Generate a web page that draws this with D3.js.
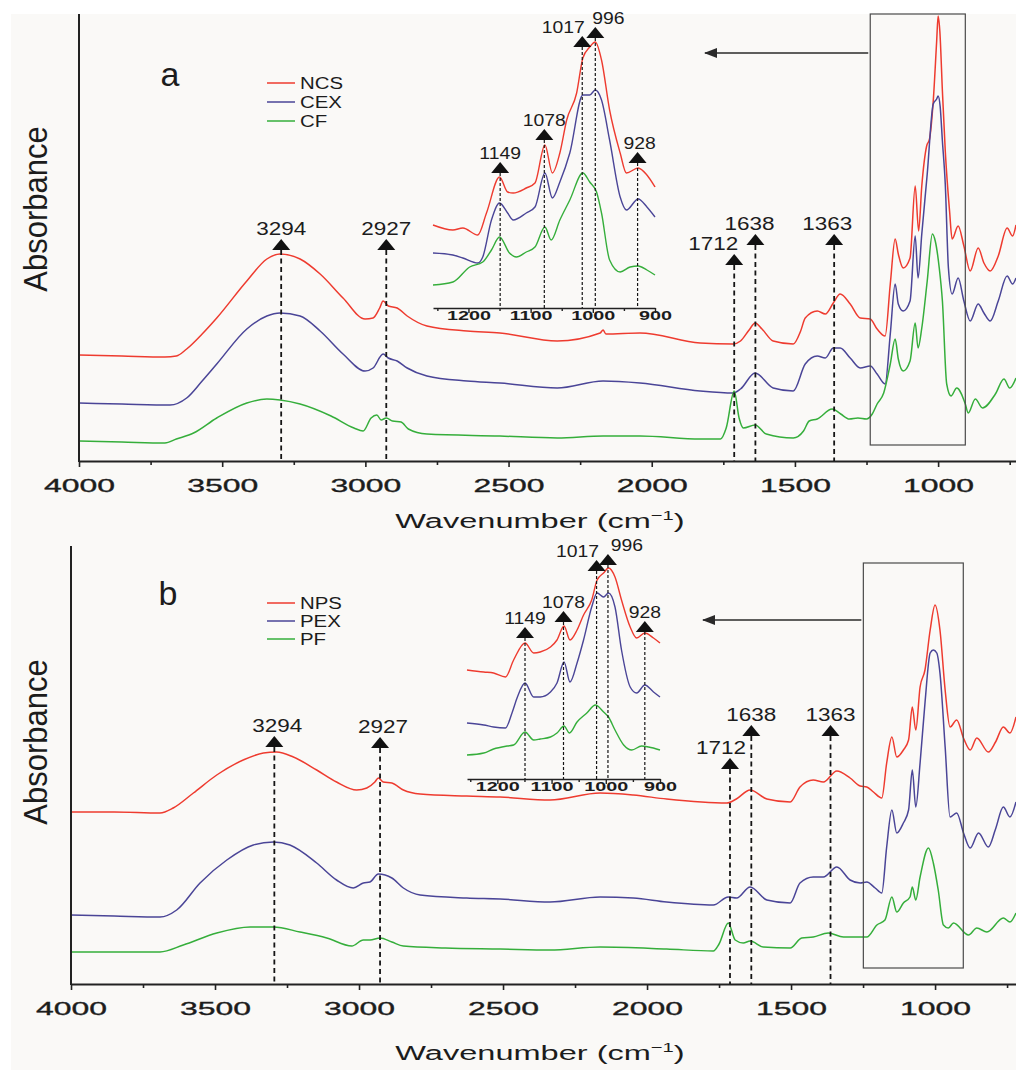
<!DOCTYPE html>
<html>
<head>
<meta charset="utf-8">
<script src="https://cdn.jsdelivr.net/npm/d3@7"></script>
<style>
  body { margin: 0; background: #ffffff; }
  svg { display: block; }
  text { font-family: "Liberation Sans", Arial, Helvetica, sans-serif; fill: #1c1c1c; }
</style>
</head>
<body>
<svg id="fig" width="1016" height="1070"></svg>
<script>
// ---------------- FTIR spectra: [wavenumber (cm-1), absorbance (a.u., offset)] ----------------
// Panel a
const NCS = [[4000,1.06],[3850,1.05],[3700,1.04],[3660,1.05],[3624,1.12],[3570,1.27],[3519,1.43],[3414,1.80],[3344,2.02],[3298,2.07],[3228,2.02],[3158,1.87],[3078,1.63],[3001,1.42],[2973,1.43],[2950,1.53],[2938,1.60],[2920,1.55],[2889,1.53],[2854,1.45],[2785,1.35],[2645,1.30],[2530,1.28],[2330,1.20],[2180,1.28],[2170,1.31],[2160,1.27],[2041,1.28],[1831,1.18],[1716,1.17],[1690,1.20],[1660,1.31],[1639,1.38],[1615,1.32],[1576,1.20],[1506,1.17],[1480,1.30],[1464,1.43],[1422,1.50],[1394,1.47],[1366,1.58],[1342,1.67],[1307,1.57],[1272,1.43],[1237,1.42],[1213,1.32],[1185,1.25],[1167,1.77],[1150,2.22],[1139,2.07],[1122,1.93],[1098,2.03],[1080,2.75],[1068,2.30],[1057,2.75],[1040,3.15],[1030,3.22],[1017,3.60],[1005,4.20],[1000,4.45],[994,4.30],[985,3.70],[975,3.10],[960,2.50],[951,2.22],[930,2.35],[910,2.15],[888,1.90],[860,2.13],[840,1.98],[818,1.90],[790,2.05],[759,2.33],[740,2.25],[728,2.36]];
const CEX = [[4000,0.58],[3850,0.57],[3682,0.56],[3624,0.63],[3570,0.80],[3519,0.97],[3414,1.32],[3344,1.45],[3298,1.48],[3228,1.45],[3158,1.30],[3078,1.07],[3001,0.90],[2973,0.93],[2938,1.07],[2920,1.03],[2889,1.00],[2854,0.93],[2785,0.85],[2645,0.80],[2530,0.78],[2330,0.73],[2170,0.80],[2041,0.78],[1831,0.70],[1716,0.68],[1690,0.72],[1639,0.88],[1576,0.73],[1506,0.70],[1464,0.97],[1422,1.05],[1394,1.03],[1366,1.13],[1342,1.13],[1307,1.03],[1272,0.93],[1237,0.95],[1213,0.87],[1185,0.77],[1167,1.27],[1150,1.77],[1139,1.57],[1122,1.50],[1098,1.60],[1080,2.25],[1070,1.83],[1057,2.27],[1038,2.87],[1017,3.57],[1005,3.62],[1000,3.65],[993,3.55],[985,3.20],[975,2.77],[964,1.93],[951,1.67],[930,1.83],[910,1.60],[888,1.40],[860,1.57],[840,1.48],[818,1.40],[790,1.60],[759,1.85],[740,1.77],[728,1.83]];
const CF = [[4000,0.20],[3850,0.19],[3700,0.18],[3660,0.22],[3600,0.28],[3519,0.43],[3414,0.58],[3344,0.62],[3298,0.61],[3228,0.57],[3120,0.45],[3040,0.33],[3008,0.30],[2980,0.43],[2960,0.46],[2945,0.41],[2927,0.43],[2905,0.40],[2875,0.39],[2850,0.32],[2785,0.27],[2530,0.25],[2330,0.23],[2170,0.25],[2041,0.25],[1831,0.22],[1760,0.22],[1740,0.33],[1712,0.70],[1695,0.43],[1680,0.33],[1639,0.36],[1600,0.27],[1506,0.23],[1470,0.30],[1450,0.40],[1422,0.42],[1370,0.52],[1340,0.47],[1310,0.42],[1280,0.43],[1250,0.42],[1230,0.47],[1213,0.57],[1190,0.68],[1167,0.97],[1150,1.22],[1139,1.02],[1122,0.90],[1098,1.00],[1080,1.38],[1070,1.13],[1057,1.33],[1038,1.80],[1020,2.27],[1010,2.20],[996,1.93],[985,1.60],[970,0.77],[955,0.65],[935,0.73],[905,0.57],[895,0.48],[870,0.62],[845,0.53],[800,0.67],[770,0.82],[750,0.73],[728,0.83]];

// Panel b
const NPS = [[4000,1.72],[3850,1.72],[3691,1.71],[3645,1.76],[3575,1.91],[3494,2.09],[3402,2.24],[3332,2.31],[3286,2.32],[3228,2.27],[3147,2.14],[3078,2.02],[3008,1.94],[2973,1.96],[2945,2.02],[2933,2.06],[2916,2.02],[2886,2.01],[2846,1.94],[2788,1.90],[2626,1.88],[2510,1.87],[2337,1.84],[2163,1.91],[2048,1.89],[1932,1.85],[1723,1.81],[1690,1.85],[1642,1.94],[1584,1.85],[1503,1.82],[1469,1.97],[1423,2.04],[1388,2.02],[1341,2.13],[1295,2.06],[1260,1.98],[1237,1.97],[1214,1.92],[1185,1.86],[1168,2.21],[1150,2.47],[1133,2.27],[1110,2.34],[1092,2.44],[1079,2.77],[1067,2.54],[1052,2.97],[1035,3.14],[1017,3.54],[1000,3.79],[983,3.54],[965,2.94],[948,2.57],[925,2.64],[900,2.45],[878,2.34],[855,2.46],[815,2.32],[790,2.42],[763,2.57],[740,2.51],[719,2.67]];
const PEX = [[4000,0.69],[3850,0.68],[3691,0.67],[3633,0.74],[3552,1.01],[3459,1.24],[3367,1.39],[3297,1.42],[3240,1.39],[3147,1.21],[3078,1.04],[3020,0.96],[2985,1.01],[2962,1.02],[2933,1.10],[2886,1.06],[2846,0.96],[2788,0.89],[2626,0.86],[2510,0.85],[2337,0.82],[2163,0.87],[2048,0.86],[1932,0.82],[1770,0.79],[1718,0.87],[1689,0.86],[1642,0.97],[1584,0.84],[1503,0.81],[1469,1.01],[1423,1.07],[1388,1.07],[1341,1.17],[1295,1.04],[1260,1.01],[1237,1.02],[1208,0.96],[1185,0.91],[1168,1.37],[1150,1.74],[1133,1.51],[1110,1.61],[1092,1.74],[1079,2.14],[1067,1.77],[1052,2.21],[1035,2.81],[1017,3.31],[1006,3.34],[994,3.31],[983,3.11],[965,2.37],[948,1.67],[925,1.71],[900,1.50],[878,1.36],[849,1.51],[815,1.37],[790,1.55],[763,1.77],[740,1.67],[719,1.82]];
const PF = [[4000,0.32],[3691,0.32],[3610,0.39],[3494,0.51],[3378,0.57],[3297,0.57],[3205,0.52],[3112,0.46],[3025,0.38],[2985,0.44],[2962,0.44],[2927,0.46],[2886,0.42],[2846,0.38],[2700,0.36],[2510,0.35],[2337,0.34],[2163,0.37],[1932,0.35],[1770,0.33],[1750,0.40],[1718,0.61],[1694,0.44],[1666,0.41],[1642,0.43],[1596,0.37],[1503,0.36],[1463,0.46],[1423,0.47],[1371,0.51],[1318,0.47],[1237,0.47],[1202,0.59],[1174,0.64],[1150,0.87],[1133,0.72],[1110,0.81],[1087,0.87],[1079,0.97],[1067,0.84],[1052,1.07],[1023,1.36],[1006,1.21],[989,0.94],[971,0.59],[954,0.56],[936,0.61],[884,0.49],[855,0.56],[820,0.52],[763,0.66],[740,0.62],[719,0.71]];

// Expanded 1250-900 cm-1 region (insets), stacked with their own offsets
const insetNCS = [[1257,0.82],[1225,0.77],[1209,0.79],[1185,0.72],[1171,0.94],[1150,1.30],[1137,1.15],[1128,1.14],[1107,1.19],[1093,1.24],[1077,1.62],[1065,1.34],[1053,1.54],[1042,1.87],[1026,2.14],[1016,2.49],[1005,2.60],[996,2.65],[986,2.47],[973,1.97],[956,1.54],[946,1.34],[927,1.39],[913,1.32],[900,1.20]];
const insetCEX = [[1257,0.54],[1225,0.52],[1209,0.49],[1185,0.44],[1177,0.50],[1163,0.87],[1150,1.04],[1137,0.94],[1128,0.87],[1107,0.94],[1093,1.00],[1077,1.34],[1065,1.09],[1053,1.25],[1037,1.54],[1016,2.12],[1005,2.12],[996,2.17],[986,2.07],[973,1.67],[956,1.10],[946,0.97],[927,1.08],[913,1.00],[900,0.90]];
const insetCF = [[1257,0.22],[1225,0.25],[1198,0.40],[1177,0.45],[1163,0.57],[1150,0.70],[1134,0.54],[1123,0.50],[1107,0.55],[1093,0.60],[1077,0.80],[1067,0.67],[1053,0.87],[1037,1.07],[1016,1.34],[1005,1.25],[994,1.15],[986,0.94],[973,0.47],[956,0.35],[940,0.40],[927,0.41],[913,0.37],[900,0.32]];
const insetNPS = [[1256,1.10],[1225,1.08],[1207,1.07],[1185,1.03],[1170,1.20],[1149,1.37],[1133,1.27],[1121,1.28],[1102,1.33],[1090,1.40],[1077,1.54],[1066,1.40],[1053,1.50],[1041,1.65],[1026,1.80],[1016,2.00],[1004,2.07],[995,2.12],[983,2.03],[971,1.80],[955,1.53],[943,1.42],[928,1.47],[912,1.42],[900,1.37]];
const insetPEX = [[1256,0.57],[1225,0.55],[1207,0.53],[1185,0.52],[1173,0.67],[1163,0.83],[1149,0.97],[1133,0.83],[1121,0.83],[1102,0.88],[1090,0.97],[1077,1.18],[1066,0.98],[1053,1.17],[1041,1.40],[1026,1.73],[1016,1.87],[1004,1.83],[995,1.87],[983,1.73],[971,1.30],[955,0.93],[943,0.87],[928,0.95],[912,0.88],[900,0.83]];
const insetPF = [[1256,0.25],[1225,0.27],[1207,0.31],[1182,0.34],[1170,0.35],[1149,0.48],[1133,0.40],[1121,0.41],[1102,0.43],[1090,0.47],[1077,0.54],[1067,0.47],[1053,0.58],[1035,0.67],[1019,0.75],[1004,0.68],[995,0.63],[983,0.50],[967,0.35],[952,0.30],[934,0.34],[921,0.33],[900,0.30]];

// Series names, tick values, marked bands
const namesA = ["NCS", "CEX", "CF"];
const namesB = ["NPS", "PEX", "PF"];
const majorTicks = [4000, 3500, 3000, 2500, 2000, 1500, 1000];
const minorTicks = [3750, 3250, 2750, 2250, 1750, 1250, 750];
const insetMajorTicks = [1200, 1100, 1000, 900];
const insetMinorTicks = [1250, 1150, 1050, 950];
const mainPeaks = [3294, 2927, 1712, 1638, 1363];
const insetPeaks = [1149, 1078, 1017, 996, 928];

// ---------------- layout ----------------
const COLORS = ["#ee3b2f", "#4a4597", "#35ae3b"];
const W = 1016;

const layoutA = {
  series: [NCS, CEX, CF], inset: [insetNCS, insetCEX, insetCF], names: namesA, letter: "a",
  left: 79, top: 14, bottom: 461, xEnd: 728, yMax: 4.47,
  box: [1237, 905], boxTop: 14, boxBottom: 445, arrowY: 53, arrowTip: 705,
  letterPos: [170, 86], absY: 209, titleY: 528, legendY: [83, 102, 121],
  markLevels: [2.11, 2.11, 1.96, 2.16, 2.16], markDx: [0, 0, -21, -6, -7],
  insetDomain: [1257, 900], insetRange: [433, 655], insetAxisY: 308, insetBase: 307,
  insetLevels: [1.34, 1.67, 2.60, 2.69, 1.44], insetDx: [0, 0, -19, 13, 2]
};
const layoutB = {
  series: [NPS, PEX, PF], inset: [insetNPS, insetPEX, insetPF], names: namesB, letter: "b",
  left: 71, top: 546, bottom: 984, xEnd: 719, yMax: 4.38,
  box: [1249, 902], boxTop: 563, boxBottom: 968, arrowY: 620, arrowTip: 703,
  letterPos: [168, 605], absY: 742, titleY: 1060, legendY: [603, 621, 639],
  markLevels: [2.37, 2.36, 2.15, 2.48, 2.48], markDx: [3, 3, -9, 0, 0],
  insetDomain: [1256, 900], insetRange: [467, 660], insetAxisY: 779, insetBase: 780,
  insetLevels: [1.42, 1.58, 2.09, 2.15, 1.48], insetDx: [0, 0, -19, 19, 0]
};

const svg = d3.select("#fig");
svg.append("rect").attr("x", 11).attr("y", 14).attr("width", W - 11).attr("height", 1070 - 14).attr("fill", "#faf9f7");

// arrowhead: tip sits at the end of the line
const defs = svg.append("defs");
defs.append("marker").attr("id", "arrowhead").attr("viewBox", "0 0 13 10")
  .attr("refX", 12).attr("refY", 5).attr("markerWidth", 13).attr("markerHeight", 10)
  .attr("markerUnits", "userSpaceOnUse").attr("orient", "auto")
  .append("path").attr("d", "M13,5L0,0L0,10Z").attr("fill", "#2a2a2a");

function drawPeakMarks(g, x, y, baseY, peaks, levels, dxs, st) {
  peaks.forEach((wn, i) => {
    const cx = x(wn), yb = y(levels[i]);
    g.append("line").attr("x1", cx).attr("x2", cx).attr("y1", yb).attr("y2", baseY)
      .attr("stroke", "#151515").attr("stroke-width", st.lw).attr("stroke-dasharray", st.dash);
    g.append("path")
      .attr("d", `M${cx - st.tw / 2},${yb}L${cx + st.tw / 2},${yb}L${cx},${yb - st.th}Z`)
      .attr("fill", "#111");
    g.append("text")
      .attr("transform", `translate(${cx + dxs[i]},${yb - st.th - st.gap}) scale(${st.sx},1)`)
      .attr("text-anchor", "middle").attr("font-size", st.fs).text(wn);
  });
}

function drawPanel(p) {
  const g = svg.append("g");
  const x = d3.scaleLinear().domain([4000, p.xEnd]).range([p.left, W]);
  const y = d3.scaleLinear().domain([0, p.yMax]).range([p.bottom, p.top]);
  const line = d3.line().x(d => x(d[0])).y(d => y(d[1])).curve(d3.curveMonotoneX);

  // spectra
  p.series.forEach((s, i) => {
    g.append("path").datum(s).attr("d", line).attr("fill", "none")
      .attr("stroke", COLORS[i]).attr("stroke-width", 1.5).attr("stroke-linejoin", "round");
  });

  // x axis with major and minor ticks
  const ax = g.append("g").attr("transform", `translate(0,${p.bottom})`)
    .call(d3.axisBottom(x).tickValues(majorTicks).tickFormat(d3.format("d")).tickSize(6).tickSizeOuter(0));
  ax.select(".domain").attr("stroke", "#222").attr("stroke-width", 2);
  ax.selectAll(".tick line").attr("stroke", "#222").attr("stroke-width", 1.6);
  ax.selectAll(".tick text").attr("y", 31).attr("dy", null)
    .attr("font-size", 19).attr("font-family", null).attr("fill", "#1c1c1c")
    .attr("stroke", "#1c1c1c").attr("stroke-width", 0.35)
    .attr("transform", "scale(1.68,1)");
  const axm = g.append("g").attr("transform", `translate(0,${p.bottom})`)
    .call(d3.axisBottom(x).tickValues(minorTicks).tickFormat("").tickSize(4).tickSizeOuter(0));
  axm.select(".domain").remove();
  axm.selectAll(".tick line").attr("stroke", "#222").attr("stroke-width", 1.6);

  // y axis (no ticks)
  g.append("line").attr("x1", p.left).attr("x2", p.left).attr("y1", p.top).attr("y2", p.bottom + 1)
    .attr("stroke", "#222").attr("stroke-width", 2);

  // axis titles
  const t = g.append("text").attr("transform", `translate(540,${p.titleY}) scale(1.55,1)`)
    .attr("text-anchor", "middle").attr("font-size", 21);
  t.append("tspan").text("Wavenumber (cm");
  t.append("tspan").attr("font-size", 13).attr("dy", -8).text("\u22121");
  t.append("tspan").attr("font-size", 21).attr("dy", 8).text(")");
  g.append("text").attr("transform", `translate(47,${p.absY}) rotate(-90) scale(1,1.1)`)
    .attr("text-anchor", "middle").attr("font-size", 31).text("Absorbance");

  // panel letter
  g.append("text").attr("x", p.letterPos[0]).attr("y", p.letterPos[1])
    .attr("text-anchor", "middle").attr("font-size", 34).text(p.letter);

  // legend
  p.names.forEach((n, i) => {
    const ly = p.legendY[i];
    g.append("line").attr("x1", 267).attr("x2", 295).attr("y1", ly).attr("y2", ly)
      .attr("stroke", COLORS[i]).attr("stroke-width", 1.5);
    g.append("text").attr("transform", `translate(300,${ly + 6}) scale(1.2,1)`)
      .attr("font-size", 17).text(n);
  });

  // band box and arrow to the inset
  const bx0 = x(p.box[0]), bx1 = x(p.box[1]);
  g.append("rect").attr("x", bx0).attr("y", p.boxTop).attr("width", bx1 - bx0).attr("height", p.boxBottom - p.boxTop)
    .attr("fill", "none").attr("stroke", "#4a4a4a").attr("stroke-width", 1.2);
  g.append("line").attr("x1", bx0 - 2).attr("x2", p.arrowTip).attr("y1", p.arrowY).attr("y2", p.arrowY)
    .attr("stroke", "#2a2a2a").attr("stroke-width", 1.4).attr("marker-end", "url(#arrowhead)");

  // peak markers on the full spectrum
  drawPeakMarks(g, x, y, p.bottom, mainPeaks, p.markLevels, p.markDx,
    { lw: 1.8, dash: "5,3.5", tw: 18, th: 11, gap: 4, fs: 18, sx: 1.25 });

  // ---- inset: expanded fingerprint region ----
  const xi = d3.scaleLinear().domain(p.insetDomain).range(p.insetRange);
  const yi = d3.scaleLinear().domain([0, 3]).range([p.insetBase, p.insetBase - 300]);
  const li = d3.line().x(d => xi(d[0])).y(d => yi(d[1])).curve(d3.curveMonotoneX);
  p.inset.forEach((s, i) => {
    g.append("path").datum(s).attr("d", li).attr("fill", "none")
      .attr("stroke", COLORS[i]).attr("stroke-width", 1.4);
  });
  const ia = g.append("g").attr("transform", `translate(0,${p.insetAxisY})`)
    .call(d3.axisBottom(xi).tickValues(insetMajorTicks).tickFormat(d3.format("d")).tickSize(5).tickSizeOuter(0));
  ia.select(".domain").attr("stroke", "#222").attr("stroke-width", 1.5);
  ia.selectAll(".tick line").attr("stroke", "#222").attr("stroke-width", 1.4);
  ia.selectAll(".tick text").attr("y", 12).attr("dy", null)
    .attr("font-size", 12).attr("font-weight", "bold").attr("font-family", null).attr("fill", "#1c1c1c")
    .attr("transform", "scale(1.65,1)");
  const iam = g.append("g").attr("transform", `translate(0,${p.insetAxisY})`)
    .call(d3.axisBottom(xi).tickValues(insetMinorTicks).tickFormat("").tickSize(3).tickSizeOuter(0));
  iam.select(".domain").remove();
  iam.selectAll(".tick line").attr("stroke", "#222").attr("stroke-width", 1.4);

  drawPeakMarks(g, xi, yi, p.insetAxisY, insetPeaks, p.insetLevels, p.insetDx,
    { lw: 1.2, dash: "3,2", tw: 18, th: 11, gap: 3, fs: 17, sx: 1.14 });
}

drawPanel(layoutA);
drawPanel(layoutB);
</script>
</body>
</html>
